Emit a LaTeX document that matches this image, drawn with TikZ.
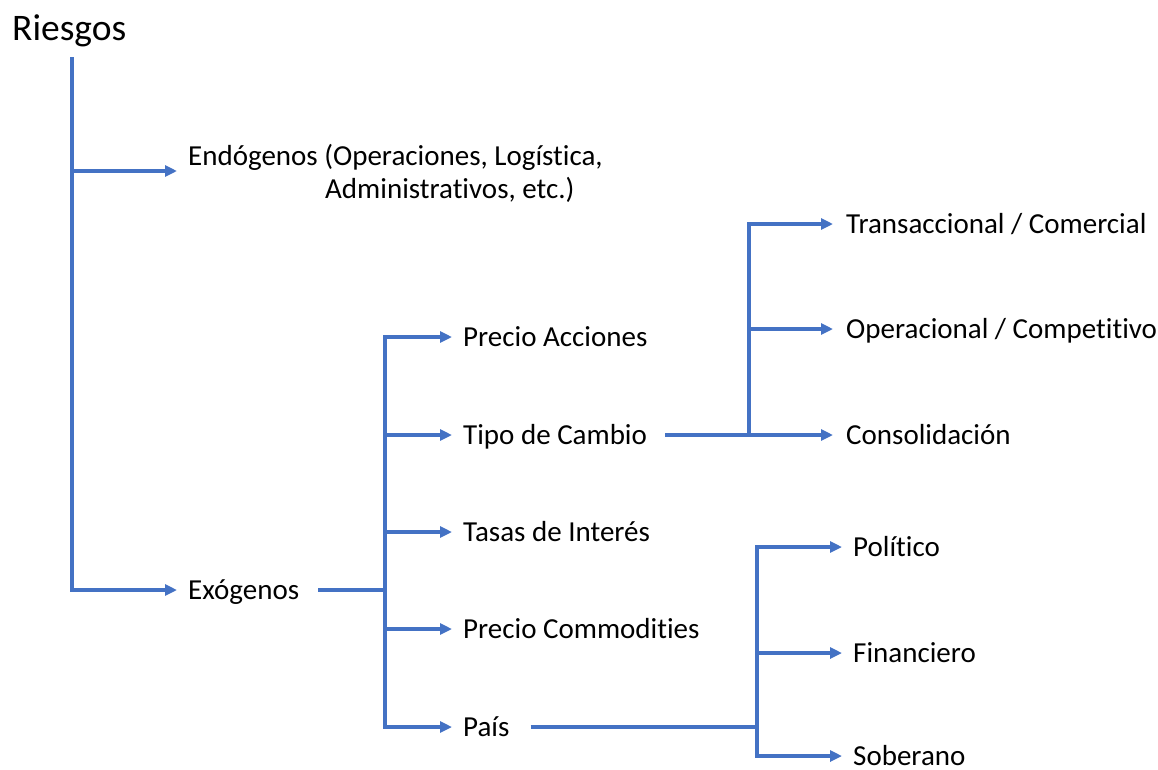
\documentclass[tikz,border=0pt]{standalone}
\usepackage{fontspec}
\setmainfont{Carlito}[Ligatures=NoCommon]
\usetikzlibrary{arrows.meta}
\definecolor{linkblue}{HTML}{4472C4}
\tikzset{
  link/.style={draw=linkblue, line width=3.5pt},
  arr/.style={link, -{Triangle[length=12pt,width=11pt]}, shorten >=11pt},
  lbl/.style={anchor=west, inner sep=0pt, text height=18.5pt, text depth=0pt,
              font=\fontsize{29}{34}\selectfont},
}
\begin{document}
\begin{tikzpicture}[x=1pt,y=-1pt]
\useasboundingbox (0,0) rectangle (1158,769);

% root
\node[anchor=base west, inner sep=0pt, font=\fontsize{37.5}{44}\selectfont] (root) at (12,40) {Riesgos};
\coordinate (rtop) at (72,57);
\coordinate (rj1) at (72,171);

% first level
\node[anchor=west, inner sep=0pt, align=left, font=\fontsize{29}{33}\selectfont] (endo) at (188,173)
  {Endógenos (Operaciones, Logística,\\\hspace*{137pt}Administrativos, etc.)};
\node[lbl] (exo) at (188,590) {Exógenos};

\draw[arr] (rtop) |- (exo.west);
\draw[arr] (rj1) -- (endo.west |- rj1);

% exogenous risks
\coordinate (ej) at (385,590);
\node[lbl] (pa)   at (463,337) {Precio Acciones};
\node[lbl] (tc)   at (463,435) {Tipo de Cambio};
\node[lbl] (ti)   at (463,532) {Tasas de Interés};
\node[lbl] (pc)   at (463,629) {Precio Commodities};
\node[lbl] (pais) at (463,727) {País};

\draw[link, line width=4pt, shorten <=19pt] (exo.east) -- (ej);
\foreach \n in {pa,tc,ti,pc,pais}
  \draw[arr] (ej) |- (\n.west);

% exchange rate risk
\coordinate (tj) at (749,435);
\node[lbl] (tr) at (846,224) {Transaccional / Comercial};
\node[lbl] (op) at (846,329) {Operacional / Competitivo};
\node[lbl] (co) at (846,435) {Consolidación};

\draw[link, line width=4pt, shorten <=18pt] (tc.east) -- (tj);
\foreach \n in {tr,op,co}
  \draw[arr, shorten >=13pt] (tj) |- (\n.west);

% country risk
\coordinate (pj) at (757,727);
\node[lbl] (po) at (853,547) {Político};
\node[lbl] (fi) at (853,653) {Financiero};
\node[lbl] (so) at (853,756) {Soberano};

\draw[link, line width=4pt, shorten <=21pt] (pais.east) -- (pj);
\draw[arr] (pj) |- (po.west);
\draw[arr] (pj) |- (fi.west);
\draw[arr] (pj) |- (so.west);
\end{tikzpicture}
\end{document}
